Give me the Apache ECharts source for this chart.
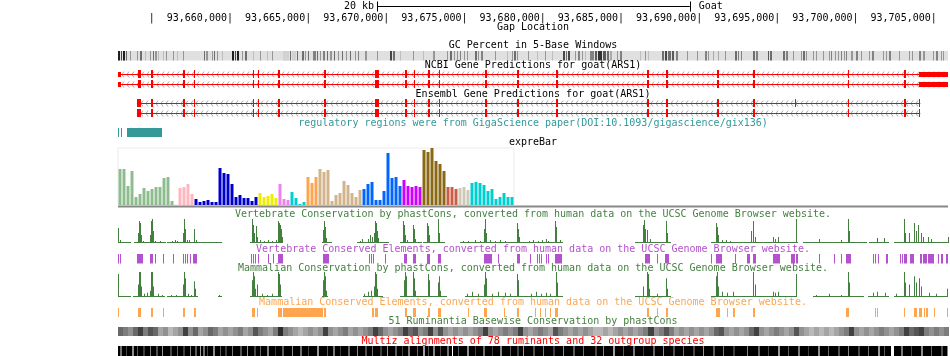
<!DOCTYPE html>
<html><head><meta charset="utf-8">
<script src="https://cdn.jsdelivr.net/npm/echarts@6/dist/echarts.min.js"></script>
<style>html,body{margin:0;padding:0;background:#fff}#c{width:950px;height:356px}</style>
</head><body><div id="c"></div>
<script>
// ---------- data (positions in kb relative to chr position 93,660,000) ----------
const BASE_KB = 93660;
const VIEW = [-7.16, 45.91];
const tickPos = [-5, 0, 5, 10, 15, 20, 25, 30, 35, 40, 45];
const tickLabels = ['', '93,660,000', '93,665,000', '93,670,000', '93,675,000', '93,680,000', '93,685,000', '93,690,000', '93,695,000', '93,700,000', '93,705,000'];
const scaleBar = [9.4, 29.4]; // 20 kb
const scaleBarLabel = '20 kb';
const assemblyName = 'Goat';

// GC percent: [start, spanBp, gcPct]
const gcStripes = [[-7.17,128,90],[-6.98,64,80],[-6.85,128,90],[-6.66,64,70],[-6.40,64,60],[-5.95,64,60],[-5.76,128,70],[-5.44,64,50],[-5.12,64,60],[-4.93,64,70],[-4.80,128,60],[-4.61,64,50],[-4.29,64,50],[-4.10,64,60],[-3.65,64,60],[-3.39,64,50],[-3.01,64,60],[-1.66,64,70],[-1.54,128,60],[-1.15,64,60],[-1.02,64,70],[-0.83,64,60],[-0.51,64,50],[0.13,128,90],[0.32,64,80],[0.45,128,90],[0.77,64,60],[0.96,128,70],[1.47,64,50],[1.92,64,60],[2.37,64,50],[2.69,64,60],[3.39,384,45],[3.84,64,70],[3.97,256,45],[4.29,64,70],[4.61,128,70],[4.80,64,60],[4.99,64,70],[5.31,192,65],[5.57,64,70],[5.76,64,60],[5.95,128,65],[6.21,64,70],[6.40,128,60],[6.66,64,70],[6.91,64,60],[7.17,64,70],[7.42,64,60],[7.68,64,70],[8.00,64,60],[8.19,64,65],[8.64,128,60],[9.41,64,60],[10.24,128,80],[10.43,128,70],[10.88,64,50],[11.71,64,60],[12.35,64,50],[12.99,128,60],[13.89,64,60],[14.08,128,70],[14.34,64,60],[14.53,64,60],[14.72,64,65],[14.98,64,60],[15.17,64,60],[15.68,128,70],[15.87,64,60],[16.06,128,65],[16.96,64,60],[17.73,64,50],[18.05,64,60],[18.18,128,70],[18.37,64,60],[19.07,64,60],[19.65,64,50],[20.16,64,60],[20.61,64,50],[21.31,128,80],[21.50,64,70],[21.63,128,80],[22.08,64,60],[22.27,128,65],[22.53,64,60],[22.72,64,50],[23.04,256,65],[23.36,128,75],[23.55,256,85],[23.87,192,75],[24.13,128,70],[24.32,128,55],[24.77,64,60],[24.96,128,65],[26.24,64,50],[26.56,64,60],[26.75,64,50],[27.65,128,70],[27.84,128,80],[28.03,192,70],[28.29,128,75],[28.54,128,65],[29.25,64,60],[29.89,64,60],[30.40,128,65],[30.59,64,60],[30.91,64,55],[31.23,64,55],[31.68,64,60],[32.32,128,70],[32.51,64,65],[32.70,64,65],[33.47,128,70],[33.66,128,65],[34.37,64,75],[34.50,128,70],[35.33,128,70],[35.52,128,65],[35.97,64,60],[36.48,64,60],[36.67,128,70],[36.86,64,60],[37.25,64,60],[37.44,64,60],[37.89,64,60],[38.27,64,60],[38.46,64,65],[38.66,64,60],[38.85,64,60],[39.04,64,65],[39.23,64,60],[39.42,64,65],[39.68,128,60],[40.00,128,65],[40.32,64,60],[40.83,64,60],[41.02,128,65],[41.73,64,60],[41.92,64,60],[42.11,128,65],[42.75,64,60],[43.39,64,60],[43.58,64,60],[44.03,128,65],[44.29,128,60],[44.93,64,60],[45.12,128,65],[45.44,64,60],[45.57,64,60]];

// Genes: introns [start, end, row], exons [start, end, row, type] (type 1 = coding, 0 = UTR)
const ncbiSpans = [[-7.16, 45.91, 0], [-7.16, 45.91, 1]];
const ncbiExonStarts = [-5.90,-5.06,-3.01,-2.27,1.44,1.76,3.07,6.02,9.28,11.20,11.74,12.67,13.34,16.32,18.37,20.86,26.69,27.90,31.17,33.41,39.52,43.07];
const ncbiExonEnds   = [-5.70,-4.95,-2.88,-2.21,1.50,1.82,3.20,6.14,9.54,11.33,11.80,12.80,13.40,16.45,18.50,20.99,26.82,27.99,31.24,33.60,39.60,43.20];
const ncbiUtr = [[-7.16, -6.98], [44.05, 45.91]];
const ensSpans = [[-5.95, 44.14, 0], [-5.95, 44.14, 1]];
const ensExonStarts = [-5.95,-5.06,-3.01,-2.27,1.44,1.76,3.07,6.02,9.28,11.20,11.74,12.67,13.34,16.32,18.37,20.86,26.69,27.90,31.17,33.41,39.52,43.07,44.05];
const ensExonEnds   = [-5.70,-4.95,-2.88,-2.21,1.50,1.82,3.20,6.14,9.54,11.33,11.80,12.80,13.40,16.45,18.50,20.99,26.82,27.99,31.24,33.60,39.60,43.20,44.14];
const ensExtraExonRow0 = [36.13, 36.19];

// regulatory regions
const regRegions = [[-7.16,-7.10],[-6.98,-6.92],[-6.59,-4.35]];

// expreBar
const exprValues = [36,36,19,34,8,11,17,14,16,18,18,27,28,4,0, 17,18,21,11, 6,3,4,5,3,3,37,32,31,21,8,10,7,7,4,8, 12,8,9,11,7, 21,6,5, 13,7,1,3, 28,22,28, 36,33,35,4,10,12,24,20,12,8,15, 16,21,23,5,5,14,52,27,28,19, 25,19,18,19,18, 55,53,57,44,41,34, 18,18,16, 17,18,15, 22,23,22,20,14,16,6,8,12,8,8];
const exprGroupSizes = [15,4,16,5,3,4,3,11,10,5,6,3,3,11];
const exprGroupColors = ['#8fbc8f','#ffb6c1','#0000cd','#eeee00','#ee82ee','#00ced1','#ffa54f','#d2b48c','#0066ff','#cc00ff','#8b6914','#cd5b45','#cdc9b6','#00ced1'];
const exprMax = 57;

// phastCons (vertebrate): [position, score]
const vertWig = [[-7.17,0.63],[-7.04,0.13],[-5.89,0.42],[-5.82,0.92],[-5.76,0.83],[-5.70,0.33],[-5.57,0.08],[-5.12,0.33],[-5.06,0.92],[-4.99,1.0],[-4.93,0.5],[-4.80,0.08],[-4.48,0.08],[-3.71,0.08],[-3.52,0.13],[-3.39,0.08],[-3.01,0.42],[-2.94,1.0],[-2.88,0.58],[-2.75,0.13],[-2.62,0.13],[-2.30,0.58],[-2.18,0.13],[1.41,1.0],[1.47,0.75],[1.54,0.42],[1.66,0.71],[1.73,0.25],[1.92,0.13],[2.18,0.08],[2.43,0.13],[2.69,0.08],[2.94,0.13],[3.07,0.92],[3.14,0.83],[3.20,0.75],[3.26,0.58],[3.33,0.25],[5.95,0.54],[6.02,0.92],[6.08,0.67],[6.14,0.21],[8.32,0.08],[8.45,0.17],[8.83,0.17],[8.96,0.33],[9.09,0.25],[9.22,0.42],[9.28,0.92],[9.34,0.83],[9.41,0.5],[9.47,0.21],[11.07,0.92],[11.14,0.75],[11.20,0.33],[11.33,0.13],[11.71,0.75],[11.78,0.58],[11.84,0.17],[12.61,0.83],[12.67,0.71],[12.74,0.33],[13.31,1.0],[13.38,0.42],[14.91,0.08],[15.23,0.08],[15.68,0.13],[16.00,0.08],[16.26,0.58],[16.32,1.0],[16.38,0.42],[16.64,0.13],[16.96,0.08],[17.28,0.13],[17.60,0.08],[18.37,0.83],[18.43,0.58],[18.50,0.25],[19.14,0.08],[19.39,0.13],[19.71,0.08],[19.97,0.13],[20.22,0.17],[20.35,0.08],[20.80,0.92],[20.86,0.67],[21.12,0.13],[26.43,0.75],[26.50,0.96],[26.56,0.58],[26.69,0.54],[26.88,0.17],[27.90,0.92],[27.97,0.42],[31.10,0.83],[31.17,0.67],[31.23,0.33],[31.49,0.13],[31.74,0.13],[32.00,0.08],[33.34,0.5],[33.41,0.92],[33.47,0.75],[33.60,0.25],[34.75,0.25],[34.88,0.17],[35.07,0.25],[36.16,1.0],[36.22,0.33],[37.63,0.17],[39.04,0.13],[39.49,1.0],[39.55,0.5],[41.34,0.21],[41.79,0.21],[43.07,1.0],[43.14,0.42],[43.39,0.42],[43.71,0.83],[43.84,0.5],[43.97,0.75],[44.16,0.42],[44.29,0.25],[44.61,0.25],[44.80,0.17],[45.89,0.25]];
const vertCoverage = [[-7.17,-6.34],[-6.14,-4.10],[-4.03,-0.51],[1.28,3.39],[5.89,6.53],[8.13,10.18],[10.88,12.29],[12.35,13.76],[14.72,21.31],[25.92,28.22],[30.78,36.35],[36.61,40.70],[40.83,42.11],[42.43,45.91]];
const vertElements = [[-7.17,-7.10],[-7.04,-6.98],[-5.95,-5.57],[-5.12,-4.93],[-4.80,-4.74],[-4.29,-4.22],[-3.65,-3.58],[-3.01,-2.94],[-2.88,-2.82],[-2.75,-2.69],[-2.56,-2.50],[-2.37,-2.11],[1.34,1.41],[1.47,1.54],[1.60,1.66],[1.79,1.86],[2.43,2.50],[2.75,2.82],[3.07,3.39],[5.95,6.34],[8.90,8.96],[9.02,9.09],[9.15,9.22],[9.92,9.98],[11.14,11.33],[11.71,11.90],[12.61,12.80],[13.31,13.50],[16.26,16.77],[17.15,17.22],[18.37,18.56],[19.20,19.26],[19.65,19.71],[19.78,19.84],[19.90,19.97],[20.22,20.29],[20.35,20.42],[20.80,21.25],[26.56,26.88],[27.33,27.39],[27.84,28.10],[30.78,30.85],[31.10,31.49],[32.26,32.32],[33.09,33.22],[33.41,33.66],[34.75,35.14],[35.90,36.10],[36.16,36.35],[37.63,37.70],[38.59,38.66],[39.04,39.10],[39.42,39.68],[41.09,41.15],[41.22,41.28],[41.41,41.47],[41.92,42.05],[42.82,42.88],[42.94,43.01],[43.07,43.26],[43.46,43.71],[44.10,44.22],[44.29,44.54],[44.61,44.99],[45.25,45.31],[45.44,45.57],[45.76,45.91]];

// phastCons (mammalian)
const mamWig = [[-7.17,0.92],[-5.89,0.5],[-5.82,1.0],[-5.76,1.0],[-5.70,0.42],[-5.50,0.13],[-5.31,0.17],[-5.12,0.25],[-5.06,1.0],[-4.99,1.0],[-4.93,0.42],[-4.61,0.13],[-4.35,0.08],[-3.78,0.08],[-3.46,0.08],[-3.01,0.5],[-2.94,1.0],[-2.88,0.75],[-2.69,0.13],[-2.50,0.08],[-2.30,0.63],[-2.24,0.33],[-0.70,0.08],[1.41,0.67],[1.47,1.0],[1.54,0.83],[1.60,0.33],[1.73,0.5],[2.05,0.13],[2.37,0.08],[2.69,0.13],[3.07,1.0],[3.14,0.92],[3.20,0.5],[5.95,0.67],[6.02,1.0],[6.08,0.83],[6.14,0.25],[8.58,0.13],[8.83,0.21],[9.02,0.25],[9.22,0.42],[9.28,1.0],[9.34,0.92],[9.41,0.33],[11.14,0.67],[11.20,1.0],[11.26,0.83],[11.71,1.0],[11.78,0.75],[11.84,0.25],[12.67,0.92],[12.74,0.67],[13.31,0.58],[13.38,0.83],[13.44,0.25],[15.17,0.13],[15.49,0.21],[15.87,0.13],[16.26,0.5],[16.32,1.0],[16.38,0.75],[16.77,0.13],[17.15,0.21],[17.60,0.17],[17.92,0.13],[18.37,0.92],[18.43,0.67],[19.26,0.13],[19.58,0.21],[19.90,0.13],[20.22,0.17],[20.48,0.13],[20.86,1.0],[20.93,0.58],[26.43,0.42],[26.69,1.0],[26.75,0.92],[26.82,0.33],[27.33,0.13],[27.90,0.75],[27.97,0.33],[31.10,0.83],[31.17,1.0],[31.23,0.42],[31.49,0.21],[31.81,0.17],[32.19,0.21],[33.41,1.0],[33.47,0.67],[33.60,0.5],[34.69,0.21],[34.88,0.17],[35.07,0.21],[36.16,0.92],[36.22,0.42],[37.44,0.08],[38.27,0.13],[39.04,0.08],[39.49,1.0],[39.55,0.58],[41.09,0.17],[41.34,0.21],[41.86,0.17],[42.56,0.13],[43.07,1.0],[43.14,0.58],[43.39,0.5],[43.71,0.83],[43.84,0.58],[44.03,0.75],[44.16,0.42],[44.67,0.17],[45.12,0.13],[45.82,0.33]];
const mamCoverage = [[-7.17,-6.34],[-6.21,-4.16],[-4.03,-2.05],[-0.77,-0.51],[1.28,3.33],[5.89,6.27],[8.51,9.79],[10.88,13.89],[15.04,21.31],[25.92,28.22],[30.78,36.29],[37.25,40.51],[40.77,42.11],[42.43,45.91]];
const mamElements = [[-7.17,-7.10],[-5.89,-5.70],[-5.06,-4.93],[-4.29,-4.22],[-3.01,-2.88],[-2.30,-2.18],[1.41,1.60],[1.73,1.79],[3.07,3.33],[3.39,5.95],[6.02,6.14],[9.09,9.22],[9.28,9.47],[11.20,11.33],[11.71,11.90],[12.67,12.80],[13.31,13.50],[15.23,15.30],[16.26,16.45],[17.54,17.60],[18.37,18.50],[19.52,19.58],[19.84,19.90],[20.16,20.22],[20.48,20.54],[20.80,20.99],[26.69,26.82],[27.33,27.39],[27.90,28.03],[31.10,31.30],[31.81,31.87],[32.19,32.26],[33.47,33.60],[39.42,39.55],[41.22,41.28],[41.34,41.41],[43.07,43.14],[43.71,43.90],[44.03,44.22],[44.35,44.42],[44.48,44.61],[44.99,45.06],[45.85,45.91]];

// Ruminantia basewise conservation: fixed windows of 0.32 kb from -7.16, score 0-9
const ruminStart = -7.16, ruminStep = 0.32;
const ruminScores = [6,5,4,6,8,5,7,6,3,4,2,3,4,8,4,6,3,4,6,5,3,4,3,4,5,3,4,7,5,4,3,5,9,5,4,3,2,3,4,3,4,8,4,3,4,5,3,4,3,4,5,8,6,4,3,4,5,8,6,7,4,5,8,4,7,4,3,4,3,4,3,4,5,8,4,3,4,5,4,5,8,4,3,4,5,4,3,7,5,4,3,4,3,4,3,2,2,3,2,3,4,3,4,3,4,5,8,4,5,7,5,3,4,3,4,3,4,3,4,6,7,4,3,4,3,4,6,8,4,3,4,5,4,3,4,7,4,3,2,3,2,3,2,3,4,5,8,4,3,4,3,4,5,4,3,4,5,8,6,7,8,5,4,5,4,5];

// Multiz: lighter columns [position, spanBp, gray], gaps (no alignment) [position, spanBp]
const multizLines = [[-7.04,128,110],[-6.66,64,70],[-6.27,128,140],[-5.95,64,90],[-5.57,128,60],[-5.12,64,120],[-4.74,128,80],[-4.35,64,150],[-3.84,128,70],[-3.39,64,100],[-3.01,128,60],[-2.56,64,130],[-2.24,128,90],[-1.92,64,160],[-1.73,128,110],[-1.47,64,70],[-1.09,128,140],[-0.64,64,90],[-0.32,128,60],[0.13,64,120],[0.64,128,80],[1.09,64,150],[1.54,128,70],[1.92,64,100],[2.37,128,130],[2.88,64,60],[3.33,128,90],[3.97,64,140],[4.48,128,110],[4.99,64,70],[5.57,128,150],[6.21,64,90],[6.59,128,120],[7.04,64,60],[7.55,128,100],[8.13,64,140],[8.64,128,80],[9.09,64,110],[9.60,128,60],[10.05,64,150],[10.56,128,90],[11.01,64,70],[11.39,128,120],[11.97,64,100],[12.35,128,160],[12.67,64,80],[12.99,128,130],[13.44,64,70],[13.89,128,110],[14.59,64,90],[15.17,128,140],[15.68,64,70],[16.19,128,110],[16.77,64,60],[17.28,128,130],[17.92,64,90],[18.37,128,70],[18.75,64,150],[19.39,128,80],[20.03,64,120],[20.67,128,60],[21.31,64,140],[21.95,128,90],[22.59,64,110],[23.36,128,70],[23.87,64,130],[24.51,128,160],[25.15,64,90],[25.79,128,120],[26.43,64,60],[27.07,128,100],[27.71,64,140],[28.35,128,80],[28.99,64,110],[29.63,128,70],[30.27,64,150],[30.91,128,90],[31.55,64,120],[32.19,128,60],[33.09,64,130],[33.73,128,100],[34.37,64,70],[35.01,128,150],[35.65,64,90],[36.29,128,120],[36.93,64,60],[37.57,128,140],[38.21,64,100],[38.85,128,80],[39.49,64,130],[40.13,128,70],[40.77,64,110],[41.41,128,150],[41.79,64,90],[42.88,128,120],[43.52,64,70],[44.16,128,140],[44.80,64,100],[45.44,128,80],[45.85,64,130]];
const multizGaps = [[14.21,64],[42.24,192]];

// ---------- chart ----------
const FONT = '10px "DejaVu Sans Mono", monospace';
const L = 118, W = 830;
const G = { bar:0, ticks:1, gc:2, ncbi:3, ens:4, reg:5, expr:6, vwig:7, vel:8, mwig:9, mel:10, rum:11, mz:12 };
const grids = [
  {left:L, width:W, top:1, height:10},
  {left:L, width:W, top:13, height:10},
  {left:L, width:W, top:51, height:9.5, show:true, backgroundColor:'#e0e0e0', borderWidth:0},
  {left:L, width:W, top:69.3, height:20},
  {left:L, width:W, top:98.2, height:19.6},
  {left:L, width:W, top:128, height:9},
  {left:L, width:396, top:148, height:57, show:true, borderColor:'#ececec', borderWidth:1, backgroundColor:'transparent'},
  {left:L, width:W, top:219, height:24},
  {left:L, width:W, top:254, height:9.5},
  {left:L, width:W, top:272, height:25},
  {left:L, width:W, top:308, height:9},
  {left:L, width:W, top:327, height:9},
  {left:L, width:W, top:346, height:10, show:true, backgroundColor:'#000', borderWidth:0}
];
const xAxes = grids.map((g, i) => i === G.expr
  ? {type:'category', gridIndex:i, show:false, data: exprValues.map((v, k) => 'sample' + (k + 1)), boundaryGap:true}
  : {type:'value', gridIndex:i, show:false, min:VIEW[0], max:VIEW[1]});
const yAxes = grids.map((g, i) => {
  if (i === G.ncbi || i === G.ens) return {type:'value', gridIndex:i, show:false, min:0, max:2, inverse:true};
  if (i === G.expr) return {type:'value', gridIndex:i, show:false, min:0, max:exprMax};
  return {type:'value', gridIndex:i, show:false, min:0, max:1};
});

function spanSeries(gridIdx, data, color, y0, y1) {
  return {
    type:'custom', xAxisIndex:gridIdx, yAxisIndex:gridIdx, data, silent:true,
    renderItem(params, api) {
      const a = api.coord([api.value(0), y1 === undefined ? 1 : y1]);
      const b = api.coord([api.value(1), y0 === undefined ? 0 : y0]);
      const x = Math.round(a[0]);
      const w = Math.max(1, Math.round(b[0]) - x);
      return {type:'rect', shape:{x, y:a[1], width:w, height:b[1]-a[1]},
        style:{fill: typeof color === 'function' ? color(params.dataIndex, api) : color}};
    }
  };
}

function wigSeries(gridIdx, data, color) {
  const binKb = 0.064;
  return {
    type:'custom', xAxisIndex:gridIdx, yAxisIndex:gridIdx, data, silent:true,
    renderItem(params, api) {
      const a = api.coord([api.value(0), api.value(1)]);
      const b = api.coord([api.value(0) + binKb, 0]);
      const x = Math.round(a[0]);
      return {type:'rect', shape:{x, y:a[1], width:Math.max(1, Math.round(b[0]) - x), height:b[1]-a[1]}, style:{fill:color}};
    }
  };
}
function baselineSeries(gridIdx, data, color) {
  return {
    type:'custom', xAxisIndex:gridIdx, yAxisIndex:gridIdx, data, silent:true,
    renderItem(params, api) {
      const a = api.coord([api.value(0), 0]);
      const b = api.coord([api.value(1), 0]);
      return {type:'rect', shape:{x:Math.round(a[0]), y:a[1]-1, width:Math.max(1, Math.round(b[0]-a[0])), height:1}, style:{fill:color}};
    }
  };
}

function intronSeries(gridIdx, spans) {
  return {
    type:'custom', xAxisIndex:gridIdx, yAxisIndex:gridIdx, data:spans, silent:true,
    renderItem(params, api) {
      const row = api.value(2);
      const a = api.coord([api.value(0), row + 0.5]);
      const b = api.coord([api.value(1), row + 0.5]);
      const y = Math.round(a[1]);
      const children = [];
      for (let x = Math.round(a[0]) + 4; x < b[0] - 3; x += 5) {
        children.push({type:'polyline', shape:{points:[[x + 2, y - 2.5], [x, y + 0.5], [x + 2, y + 3.5]]},
          style:{stroke:'#aaaaaa', lineWidth:1, fill:null}});
      }
      children.push({type:'rect', shape:{x:a[0], y:y, width:b[0]-a[0], height:1}, style:{fill:'#ff0000'}});
      return {type:'group', children};
    }
  };
}
function exonSeries(gridIdx, exons) {
  return {
    type:'custom', xAxisIndex:gridIdx, yAxisIndex:gridIdx, data:exons, silent:true,
    renderItem(params, api) {
      const row = api.value(2), coding = api.value(3);
      const pad = coding ? 0.1 : 0.25;
      const a = api.coord([api.value(0), row + pad]);
      const b = api.coord([api.value(1), row + 1 - pad]);
      const x = Math.round(a[0]);
      return {type:'rect', shape:{x, y:Math.round(a[1]), width:Math.max(1, Math.round(b[0]) - x), height:Math.round(b[1]-a[1])}, style:{fill:'#ff0000'}};
    }
  };
}
function buildExons(starts, ends, utr, rows, extra) {
  const out = [];
  rows.forEach(r => {
    starts.forEach((s, i) => out.push([s, ends[i], r, 1]));
    utr.forEach(u => out.push([u[0], u[1], r, 0]));
  });
  if (extra) out.push(extra);
  return out;
}

const gcColor = (i) => { const g = Math.round(Math.max(0, Math.min(230, 230 - (gcStripes[i][2] - 40) * 4))); return `rgb(${g},${g},${g})`; };
const gcData = gcStripes.map(s => [s[0], s[0] + s[1] / 1000]);
const rumData = ruminScores.map((s, i) => [ruminStart + i * ruminStep, ruminStart + (i + 1) * ruminStep]);
const rumColor = (i) => { const g = 225 - ruminScores[i] * 20; return `rgb(${g},${g},${g})`; };
const mzData = multizLines.map(m => [m[0], m[0] + m[1] / 1000]);
const mzColor = (i) => { const g = multizLines[i][2]; return `rgb(${g},${g},${g})`; };
const mzGapData = multizGaps.map(m => [m[0], m[0] + m[1] / 1000]);

const exprColors = [];
exprGroupSizes.forEach((n, gi) => { for (let k = 0; k < n; k++) exprColors.push(exprGroupColors[gi]); });

const GREEN = '#437f3f', PURPLE = '#b452cd', ORANGE = '#ffa54f', TEAL = '#339999';

const series = [
  // ruler scale bar
  {type:'custom', xAxisIndex:G.bar, yAxisIndex:G.bar, data:[scaleBar], silent:true,
   renderItem(params, api) {
     const a = api.coord([api.value(0), 0.5]), b = api.coord([api.value(1), 0.5]);
     const y = Math.round(a[1]) + 0.5;
     return {type:'group', children:[
       {type:'line', shape:{x1:a[0], y1:y, x2:b[0], y2:y}, style:{stroke:'#000', lineWidth:1}},
       {type:'line', shape:{x1:Math.round(a[0]) + 0.5, y1:y - 5, x2:Math.round(a[0]) + 0.5, y2:y + 5}, style:{stroke:'#000', lineWidth:1}},
       {type:'line', shape:{x1:Math.round(b[0]) + 0.5, y1:y - 5, x2:Math.round(b[0]) + 0.5, y2:y + 5}, style:{stroke:'#000', lineWidth:1}},
       {type:'text', x:a[0] - 3, y:y, style:{text:scaleBarLabel, font:FONT, fill:'#000', align:'right', verticalAlign:'middle'}},
       {type:'text', x:b[0] + 9, y:y, style:{text:assemblyName, font:FONT, fill:'#000', align:'left', verticalAlign:'middle'}}
     ]};
   }},
  // ruler ticks
  {type:'custom', xAxisIndex:G.ticks, yAxisIndex:G.ticks, data:tickPos.map(p => [p]), silent:true,
   renderItem(params, api) {
     const c = api.coord([api.value(0), 0.5]);
     return {type:'text', x:c[0] + 3, y:c[1], style:{text:tickLabels[params.dataIndex] + '|', font:FONT, fill:'#000', align:'right', verticalAlign:'middle'}};
   }},
  spanSeries(G.gc, gcData, gcColor),
  intronSeries(G.ncbi, ncbiSpans),
  exonSeries(G.ncbi, buildExons(ncbiExonStarts, ncbiExonEnds, ncbiUtr, [0, 1])),
  intronSeries(G.ens, ensSpans),
  exonSeries(G.ens, buildExons(ensExonStarts, ensExonEnds, [], [0, 1], [ensExtraExonRow0[0], ensExtraExonRow0[1], 0, 1])),
  spanSeries(G.reg, regRegions, TEAL),
  {type:'bar', xAxisIndex:G.expr, yAxisIndex:G.expr, data:exprValues, barWidth:3, silent:true,
   itemStyle:{color:(p) => exprColors[p.dataIndex]}},
  baselineSeries(G.vwig, vertCoverage, GREEN),
  wigSeries(G.vwig, vertWig, GREEN),
  spanSeries(G.vel, vertElements, PURPLE),
  baselineSeries(G.mwig, mamCoverage, GREEN),
  wigSeries(G.mwig, mamWig, GREEN),
  spanSeries(G.mel, mamElements, ORANGE),
  spanSeries(G.rum, rumData, rumColor),
  spanSeries(G.mz, mzData, mzColor),
  spanSeries(G.mz, mzGapData, '#ffffff')
];

const titles = [
  ['Gap Location', 27, '#000'],
  ['GC Percent in 5-Base Windows', 45.5, '#000'],
  ['NCBI Gene Predictions for goat(ARS1)', 65.5, '#000'],
  ['Ensembl Gene Predictions for goat(ARS1)', 94, '#000'],
  ['regulatory regions were from GigaScience paper(DOI:10.1093/gigascience/gix136)', 123, TEAL],
  ['expreBar', 142.5, '#000'],
  ['Vertebrate Conservation by phastCons, converted from human data on the UCSC Genome Browser website.', 214, GREEN],
  ['Vertebrate Conserved Elements, converted from human data on the UCSC Genome Browser website.', 249, PURPLE],
  ['Mammalian Conservation by phastCons, converted from human data on the UCSC Genome Browser website.', 268, GREEN],
  ['Mammalian Conserved Elements, converted from human data on the UCSC Genome Browser website.', 302.5, ORANGE],
  ['51 Ruminantia Basewise Conservation by phastCons', 321.5, GREEN],
  ['Multiz alignments of 78 ruminants and 32 outgroup species', 341, '#ff0000']
];
const graphic = titles.map(t => ({type:'text', x:533, y:t[1], silent:true,
  style:{text:t[0], font:FONT, fill:t[2], align:'center', verticalAlign:'middle'}}));
graphic.push({type:'rect', shape:{x:L, y:205.5, width:W, height:2}, style:{fill:'#888'}, silent:true});

const chart = echarts.init(document.getElementById('c'));
chart.setOption({
  animation:false,
  backgroundColor:'#fff',
  grid:grids, xAxis:xAxes, yAxis:yAxes, series, graphic
});
</script>
</body></html>
